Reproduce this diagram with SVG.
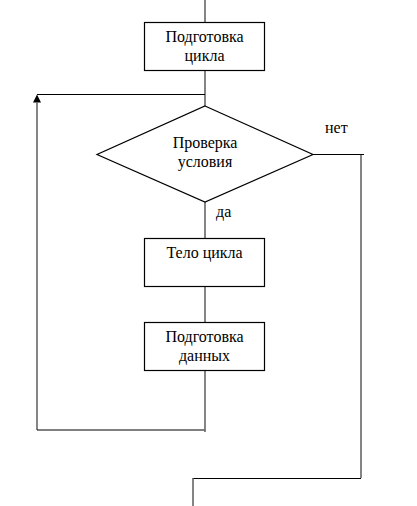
<svg xmlns="http://www.w3.org/2000/svg" width="417" height="506" viewBox="0 0 417 506">
<style>
.box{fill:#fff;stroke:#000;stroke-width:1.2}
.t{font-family:'Liberation Serif','Times New Roman',serif;font-size:16px;fill:#000;text-anchor:middle}
.tl{font-family:'Liberation Serif','Times New Roman',serif;font-size:16px;fill:#000}
.v{stroke:#666;stroke-width:1.6;fill:none}
.h{stroke:#000;stroke-width:1;fill:none}
</style>
<rect width="417" height="506" fill="#fff"/>
<g id="connectors">
<line class="v" x1="205" y1="0" x2="205" y2="22"/>
<line class="v" x1="205" y1="70" x2="205" y2="106"/>
<line class="h" x1="205" y1="94.5" x2="37" y2="94.5"/>
<path d="M33,102.5 L37,94.5 L41,102.5 Z" fill="#000"/>
<line class="v" x1="37" y1="102" x2="37" y2="430"/>
<line class="h" x1="37" y1="430" x2="205" y2="430"/>
<line class="v" x1="205" y1="370" x2="205" y2="432"/>
<line class="v" x1="205" y1="202" x2="205" y2="238"/>
<line class="v" x1="205" y1="286" x2="205" y2="322"/>
<line class="h" x1="313" y1="154.5" x2="364" y2="154.5"/>
<line class="v" x1="361" y1="155" x2="361" y2="478"/>
<line class="h" x1="361" y1="478.5" x2="192.5" y2="478.5"/>
<line class="v" x1="193" y1="478" x2="193" y2="506"/>
</g>
<g id="prep">
<rect class="box" x="144.5" y="22.5" width="120" height="48"/>
<text class="t" x="204.5" y="42">Подготовка</text>
<text class="t" x="204.5" y="61">цикла</text>
</g>
<g id="check">
<polygon class="box" points="205,106 313,154.5 205,202 97,154.5"/>
<text class="t" x="205" y="148">Проверка</text>
<text class="t" x="205" y="167">условия</text>
</g>
<g id="labels">
<text class="tl" x="325" y="133">нет</text>
<text class="tl" x="216" y="217">да</text>
</g>
<g id="body">
<rect class="box" x="144.5" y="238.5" width="120" height="48"/>
<text class="t" x="204.5" y="258">Тело цикла</text>
</g>
<g id="data">
<rect class="box" x="144.5" y="322.5" width="120" height="48"/>
<text class="t" x="204.5" y="342">Подготовка</text>
<text class="t" x="204.5" y="361">данных</text>
</g>
</svg>
